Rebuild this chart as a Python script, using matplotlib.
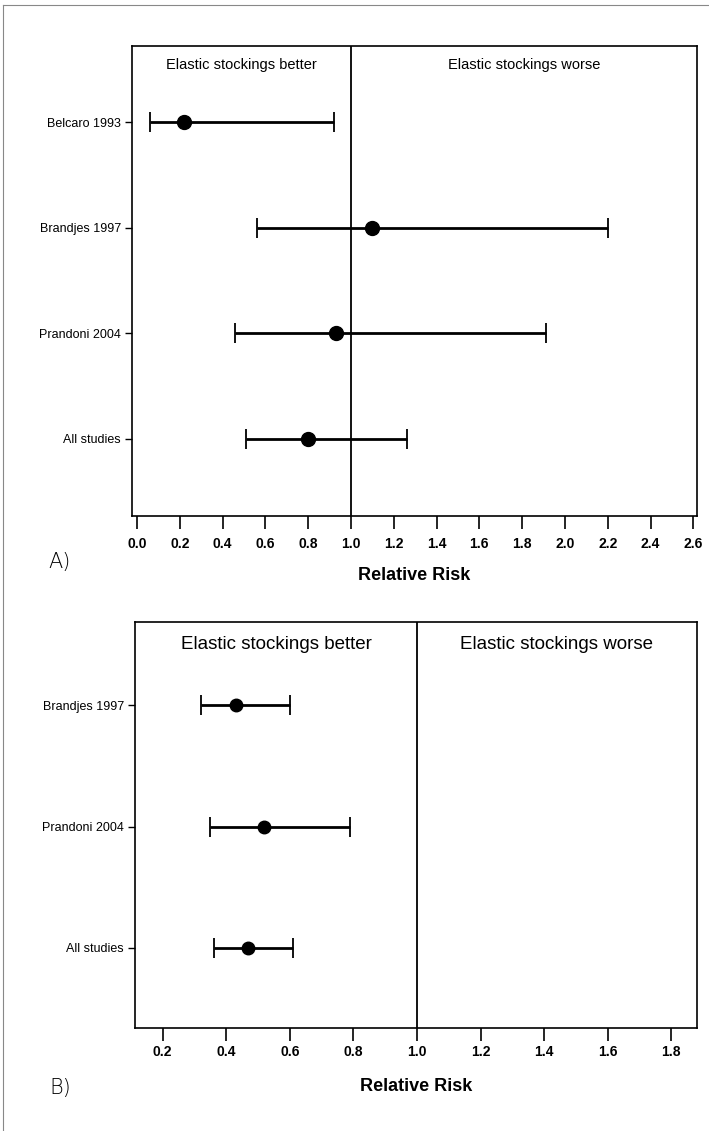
import matplotlib
matplotlib.use("Agg")
import matplotlib.pyplot as plt
from matplotlib.lines import Line2D

# Panel A data
studies_a = ["Belcaro 1993", "Brandjes 1997", "Prandoni 2004", "All studies"]
rr_a = [0.22, 1.10, 0.93, 0.80]
lo_a = [0.06, 0.56, 0.46, 0.51]
hi_a = [0.92, 2.20, 1.91, 1.26]
xticks_a = [0.0, 0.2, 0.4, 0.6, 0.8, 1.0, 1.2, 1.4, 1.6, 1.8, 2.0, 2.2, 2.4, 2.6]

# Panel B data
studies_b = ["Brandjes 1997", "Prandoni 2004", "All studies"]
rr_b = [0.43, 0.52, 0.47]
lo_b = [0.32, 0.35, 0.36]
hi_b = [0.60, 0.79, 0.61]
xticks_b = [0.2, 0.4, 0.6, 0.8, 1.0, 1.2, 1.4, 1.6, 1.8]

W, H = 709, 1131
fig = plt.figure(figsize=(W / 100, H / 100), dpi=100)
fig.patch.set_facecolor("white")

FONT = ["Liberation Sans", "DejaVu Sans"]
plt.rcParams["font.family"] = FONT


def box(l, t, r, b):
    return [l / W, 1 - b / H, (r - l) / W, (b - t) / H]


def forest(ax, names, rr, lo, hi, xticks, xlim, ylim, ms, cs, ylab_size, tpad, lpad):
    ypos = list(range(len(names)))
    xerr = [[r - l for r, l in zip(rr, lo)], [h - r for r, h in zip(rr, hi)]]
    ax.errorbar(rr, ypos, xerr=xerr, fmt="o", color="black", ms=ms,
                elinewidth=2.0, capsize=cs, capthick=1.3, zorder=3)
    ax.axvline(1.0, color="black", lw=1.3, zorder=2)
    ax.set_xlim(*xlim)
    ax.set_ylim(*ylim)
    ax.set_yticks(ypos)
    ax.set_yticklabels(names, fontsize=ylab_size)
    ax.set_xticks(xticks)
    ax.set_xticklabels([f"{v:.1f}" for v in xticks], fontsize=10, fontweight="bold")
    ax.tick_params(axis="x", direction="out", length=9, width=1.2, pad=tpad)
    ax.tick_params(axis="y", direction="out", length=5, width=1.0, pad=3)
    for s in ax.spines.values():
        s.set_linewidth(1.2)
    ax.set_xlabel("Relative Risk", fontsize=13, fontweight="bold", labelpad=lpad)
    return (xlim[0] + 1.0) / 2, (1.0 + xlim[1]) / 2


# Panel A
axA = fig.add_axes(box(132, 46, 697, 516))
ml, mr = forest(axA, studies_a, rr_a, lo_a, hi_a, xticks_a, (-0.023, 2.617),
                (3.73, -0.72), 10, 7, 9, 6, 12)
axA.text(ml, -0.54, "Elastic stockings better", ha="center", va="center", fontsize=10.5)
axA.text(mr, -0.54, "Elastic stockings worse", ha="center", va="center", fontsize=10.5)
fig.text(60 / W, 1 - 562 / H, "A)", fontsize=15, ha="center", va="center",
         fontweight="light", family=["DejaVu Sans"])

# Panel B
axB = fig.add_axes(box(135, 622, 697, 1028))
ml, mr = forest(axB, studies_b, rr_b, lo_b, hi_b, xticks_b, (0.113, 1.881),
                (2.66, -0.686), 9, 7, 9, 3, 14)
axB.text(ml, -0.5, "Elastic stockings better", ha="center", va="center", fontsize=13.5)
axB.text(mr, -0.5, "Elastic stockings worse", ha="center", va="center", fontsize=13.5)
fig.text(60 / W, 1 - 1088 / H, "B)", fontsize=15, ha="center", va="center",
         fontweight="light", family=["DejaVu Sans"])

# Outer page frame (top and left edges)
fig.add_artist(Line2D([3 / W, 3 / W], [0, 1 - 5 / H], transform=fig.transFigure,
                      color="#888888", lw=0.8))
fig.add_artist(Line2D([3 / W, 1], [1 - 5 / H, 1 - 5 / H], transform=fig.transFigure,
                      color="#888888", lw=0.8))

fig.savefig("out.png", dpi=100, facecolor="white")
